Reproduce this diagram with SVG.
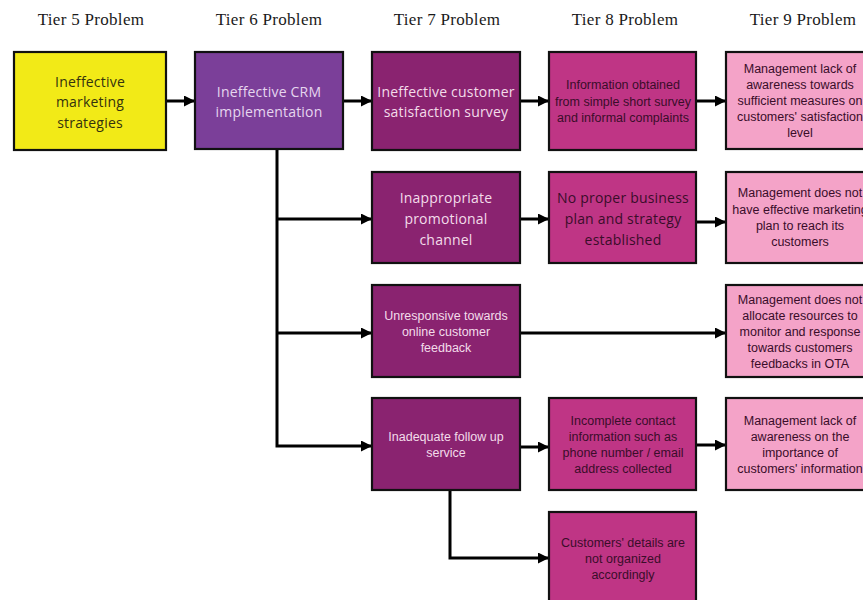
<svg xmlns="http://www.w3.org/2000/svg" width="863" height="600" viewBox="0 0 863 600">
  <style>
    .hdr { font-family: "Liberation Serif", "DejaVu Serif", serif; font-size: 17px; fill: #1a1a1a; text-anchor: middle; letter-spacing: 0.3px; }
    .box { stroke: #111; stroke-width: 2.2; }
    .big { font-family: "Open Sans", "Liberation Sans", sans-serif; font-size: 14px; text-anchor: middle; letter-spacing: 0.2px; }
    .sm { font-family: "Liberation Sans", "Arial", sans-serif; font-size: 12.5px; text-anchor: middle; }
    .t5 { fill: #f2ea17; }
    .t6 { fill: #7b3f99; }
    .t7 { fill: #8a2370; }
    .t8 { fill: #bf3585; }
    .t9 { fill: #f4a3c8; }
    .light { fill: #f3dcea; }
    .dark { fill: #3a0d2a; }
    .darkY { fill: #34320e; }
    .conn { fill: none; stroke: #000; stroke-width: 3; }
  </style>
  <defs>
    <marker id="arrow" markerUnits="userSpaceOnUse" markerWidth="11" markerHeight="11" refX="11" refY="5.5" orient="auto">
      <path d="M0,0 L11,5.5 L0,11 z" fill="#000"/>
    </marker>
  </defs>

  <rect width="863" height="600" fill="#fff"/>

  <!-- column headings -->
  <g id="headers">
    <text class="hdr" x="91" y="25">Tier 5 Problem</text>
    <text class="hdr" x="269" y="25">Tier 6 Problem</text>
    <text class="hdr" x="447" y="25">Tier 7 Problem</text>
    <text class="hdr" x="625" y="25">Tier 8 Problem</text>
    <text class="hdr" x="803" y="25">Tier 9 Problem</text>
  </g>

  <!-- connectors -->
  <g id="connectors">
    <path class="conn" d="M166 101 H195" marker-end="url(#arrow)"/>
    <path class="conn" d="M343 101 H372" marker-end="url(#arrow)"/>
    <path class="conn" d="M520 101 H549" marker-end="url(#arrow)"/>
    <path class="conn" d="M696 101 H726" marker-end="url(#arrow)"/>
    <path class="conn" d="M277 149 V446 H372" marker-end="url(#arrow)"/>
    <path class="conn" d="M277 219 H372" marker-end="url(#arrow)"/>
    <path class="conn" d="M277 333 H372" marker-end="url(#arrow)"/>
    <path class="conn" d="M520 219 H549" marker-end="url(#arrow)"/>
    <path class="conn" d="M696 222 H726" marker-end="url(#arrow)"/>
    <path class="conn" d="M520 333 H726" marker-end="url(#arrow)"/>
    <path class="conn" d="M520 447 H549" marker-end="url(#arrow)"/>
    <path class="conn" d="M696 445 H726" marker-end="url(#arrow)"/>
    <path class="conn" d="M450 490 V558 H549" marker-end="url(#arrow)"/>
  </g>

  <!-- Tier 5 -->
  <g id="n-marketing">
    <rect class="box t5" x="14" y="52" width="152" height="98"/>
    <text class="big darkY" x="90" y="87">Ineffective</text>
    <text class="big darkY" x="90" y="107">marketing</text>
    <text class="big darkY" x="90" y="128">strategies</text>
  </g>

  <!-- Tier 6 -->
  <g id="n-crm">
    <rect class="box t6" x="195" y="52" width="148" height="97"/>
    <text class="big" fill="#e6d6ef" x="269" y="97">Ineffective CRM</text>
    <text class="big" fill="#e6d6ef" x="269" y="117">implementation</text>
  </g>

  <!-- Tier 7 -->
  <g id="n-survey">
    <rect class="box t7" x="372" y="52" width="148" height="98"/>
    <text class="big light" x="446" y="97">Ineffective customer</text>
    <text class="big light" x="446" y="117">satisfaction survey</text>
  </g>
  <g id="n-promo">
    <rect class="box t7" x="372" y="172" width="148" height="91"/>
    <text class="big light" x="446" y="203">Inappropriate</text>
    <text class="big light" x="446" y="224">promotional</text>
    <text class="big light" x="446" y="245">channel</text>
  </g>
  <g id="n-online">
    <rect class="box t7" x="372" y="285" width="148" height="92"/>
    <text class="sm light" x="446" y="320">Unresponsive towards</text>
    <text class="sm light" x="446" y="336">online customer</text>
    <text class="sm light" x="446" y="352">feedback</text>
  </g>
  <g id="n-followup">
    <rect class="box t7" x="372" y="398" width="148" height="92"/>
    <text class="sm light" x="446" y="441">Inadequate follow up</text>
    <text class="sm light" x="446" y="457">service</text>
  </g>

  <!-- Tier 8 -->
  <g id="n-info">
    <rect class="box t8" x="549" y="52" width="147" height="98"/>
    <text class="sm dark" x="623" y="89">Information obtained</text>
    <text class="sm dark" x="623" y="106">from  simple short survey</text>
    <text class="sm dark" x="623" y="122">and informal complaints</text>
  </g>
  <g id="n-plan">
    <rect class="box t8" x="549" y="172" width="147" height="91"/>
    <text class="big dark" x="623" y="203">No proper business</text>
    <text class="big dark" x="623" y="224">plan and strategy</text>
    <text class="big dark" x="623" y="245">established</text>
  </g>
  <g id="n-contact">
    <rect class="box t8" x="549" y="398" width="147" height="92"/>
    <text class="sm dark" x="623" y="425">Incomplete contact</text>
    <text class="sm dark" x="623" y="441">information such as</text>
    <text class="sm dark" x="623" y="457">phone number / email</text>
    <text class="sm dark" x="623" y="473">address collected</text>
  </g>
  <g id="n-details">
    <rect class="box t8" x="549" y="512" width="147" height="100"/>
    <text class="sm dark" x="623" y="547">Customers' details are</text>
    <text class="sm dark" x="623" y="563">not organized</text>
    <text class="sm dark" x="623" y="579">accordingly</text>
  </g>

  <!-- Tier 9 (the column runs past the right edge of the page) -->
  <g id="n-aware-measures">
    <rect class="box t9" x="726" y="52" width="150" height="97"/>
    <text class="sm dark" x="800" y="73">Management lack of</text>
    <text class="sm dark" x="800" y="89">awareness towards</text>
    <text class="sm dark" x="800" y="105">sufficient measures on</text>
    <text class="sm dark" x="800" y="121">customers' satisfaction</text>
    <text class="sm dark" x="800" y="137">level</text>
  </g>
  <g id="n-mkt-plan">
    <rect class="box t9" x="726" y="172" width="150" height="91"/>
    <text class="sm dark" x="800" y="197">Management does not</text>
    <text class="sm dark" x="800" y="214">have effective marketing</text>
    <text class="sm dark" x="800" y="230">plan to reach its</text>
    <text class="sm dark" x="800" y="246">customers</text>
  </g>
  <g id="n-resources">
    <rect class="box t9" x="726" y="285" width="150" height="92"/>
    <text class="sm dark" x="800" y="304">Management does not</text>
    <text class="sm dark" x="800" y="320">allocate resources to</text>
    <text class="sm dark" x="800" y="336">monitor and response</text>
    <text class="sm dark" x="800" y="352">towards customers</text>
    <text class="sm dark" x="800" y="368">feedbacks in OTA</text>
  </g>
  <g id="n-aware-info">
    <rect class="box t9" x="726" y="398" width="150" height="92"/>
    <text class="sm dark" x="800" y="425">Management lack of</text>
    <text class="sm dark" x="800" y="441">awareness on the</text>
    <text class="sm dark" x="800" y="457">importance of</text>
    <text class="sm dark" x="800" y="473">customers' information</text>
  </g>
</svg>
